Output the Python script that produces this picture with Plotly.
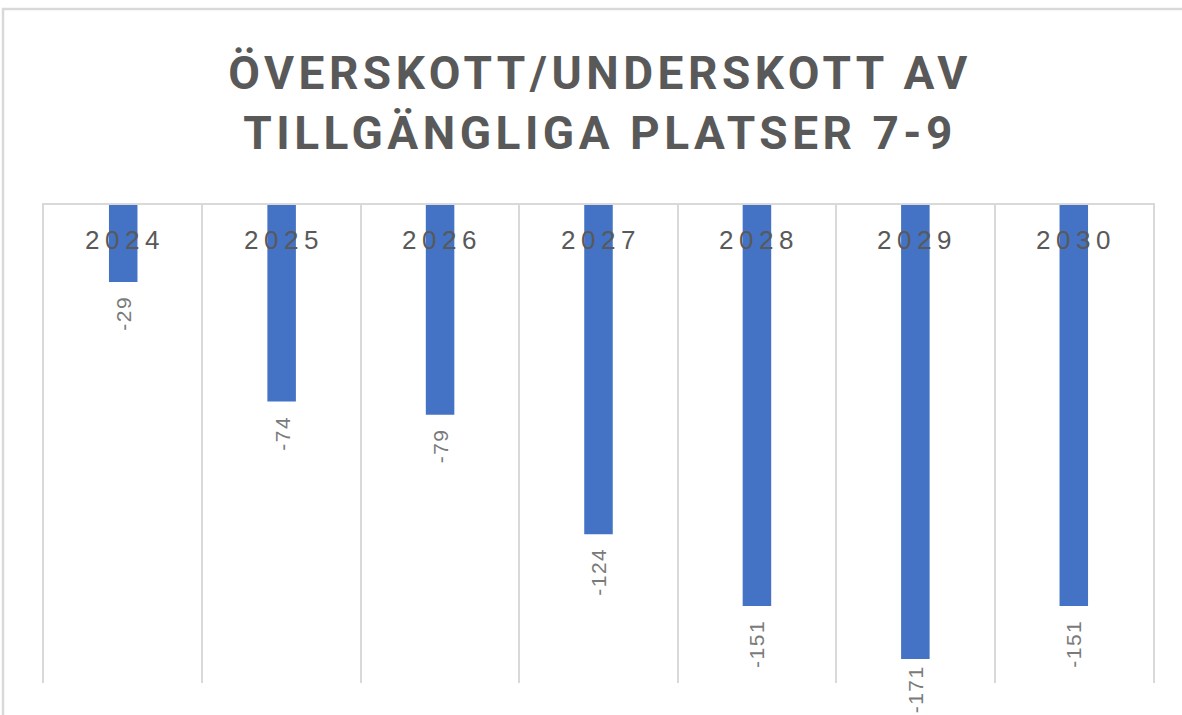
import plotly.graph_objects as go

years = ["2024", "2025", "2026", "2027", "2028", "2029", "2030"]
values = [-29, -74, -79, -124, -151, -171, -151]
title_lines = ["ÖVERSKOTT/UNDERSKOTT AV", "TILLGÄNGLIGA PLATSER 7-9"]

W, H = 1182, 715
ml, mr, mt, mb = 44, 29, 205, 32
pw, ph = W - ml - mr, H - mt - mb
ymin = -180

bar_color = "#4472C4"
grid_color = "#D9D9D9"
title_color = "#595959"
label_color = "#595959"
value_color = "#7a7a7a"

fig = go.Figure()
fig.add_trace(go.Bar(
    x=years, y=values, width=0.18,
    marker=dict(color=bar_color, line=dict(width=0)),
    hoverinfo="x+y",
))

annotations = []
for i, (yr, v) in enumerate(zip(years, values)):
    annotations.append(dict(
        x=i, y=0, xref="x", yref="y", yanchor="middle", xanchor="center",
        yshift=-35, xshift=2, showarrow=False,
        text=f'<span style="letter-spacing:5.5px">{yr}</span>',
        font=dict(family="Liberation Sans", size=26, color=label_color),
    ))
    # keep label inside the picture (as the original does for the longest bar)
    bar_end_px = mt + v / ymin * ph
    shift = -12
    label_len = 12 * len(str(v))
    if bar_end_px - shift + label_len > H - 4:
        shift = -max(3, (H - 4) - label_len - bar_end_px)
    annotations.append(dict(
        x=i, y=v, xref="x", yref="y", yanchor="top", xanchor="center",
        yshift=shift, showarrow=False, textangle=-90,
        text=f'<span style="letter-spacing:1.5px">{v}</span>',
        font=dict(family="Liberation Sans", size=21, color=value_color),
    ))

title_text = "<br>".join(
    f'<span style="letter-spacing:4.5px">{t}</span>' for t in title_lines
)

fig.update_layout(
    width=W, height=H,
    margin=dict(l=ml, r=mr, t=mt, b=mb, pad=0, autoexpand=False),
    paper_bgcolor="white", plot_bgcolor="white",
    showlegend=False,
    title=dict(
        text=title_text, x=600 / W, xanchor="center", xref="container",
        y=1 - 89 / H, yanchor="middle", yref="container",
        font=dict(family="Roboto", size=46, color=title_color, weight="bold"),
    ),
    xaxis=dict(
        side="top", type="category", tickson="boundaries",
        range=[-0.5, len(years) - 0.5], autorange=False,
        showgrid=True, gridcolor=grid_color, gridwidth=2,
        showline=True, linecolor=grid_color, linewidth=2,
        showticklabels=False, ticks="", fixedrange=True,
    ),
    yaxis=dict(
        range=[ymin, 0], autorange=False, showgrid=False, zeroline=False,
        showticklabels=False, ticks="", fixedrange=True,
        showline=True, mirror=True, linecolor=grid_color, linewidth=2,
    ),
    annotations=annotations,
    shapes=[dict(
        type="rect", xref="paper", yref="paper",
        x0=(3 - ml) / pw, x1=(W + 20 - ml) / pw,
        y0=-(H + 20 - (mt + ph)) / ph, y1=(mt + ph - 9) / ph,
        line=dict(color=grid_color, width=2.5), layer="below",
    )],
)

fig.write_html(
    "out.html",
    config={"displayModeBar": False},
    post_script="document.body.style.margin='0';document.body.style.overflow='hidden';",
)
